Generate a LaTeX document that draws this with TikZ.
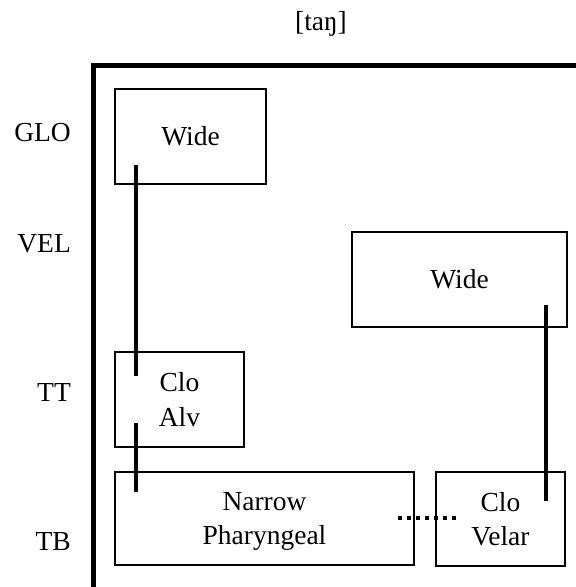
\documentclass[tikz,border=0pt]{standalone}
\usepackage{fontspec}
\setmainfont{Liberation Serif}
\begin{document}
\begin{tikzpicture}[x=1pt,y=-1pt,
  box/.style={draw, line width=2pt, inner sep=0pt, align=center, font=\fontsize{27.5}{34.5}\selectfont},
  lbl/.style={anchor=base east, inner sep=0pt, font=\fontsize{27.5}{34}\selectfont},
  conn/.style={line width=4pt},
  dotline/.style={line width=4pt, dash pattern=on 4pt off 5pt},
  frame/.style={line width=5pt, line join=miter}]
\useasboundingbox (0,0) rectangle (576,587);
\node[anchor=base, inner sep=0pt, font=\fontsize{27.5}{34}\selectfont] (title) at (321,30.5) {[taŋ]};
\coordinate (fb) at (93,592);
\coordinate (fc) at (93,65);
\coordinate (fr) at (582,65);
\draw[frame] (fb) -- (fc) -- (fr);
% tier labels
\node[lbl] (glo) at (71,141.5) {GLO};
\node[lbl] (vel0) at (71,252.7) {VEL};
\node[lbl] (tt) at (71,401.7) {TT};
\node[lbl] (tb) at (71,550) {TB};
% gestures
\node[box, minimum width=151pt, minimum height=95pt] (wideA) at (190.5,136.5) {Wide};
\node[box, minimum width=215pt, minimum height=95pt] (wideB) at (459.5,279.5) {Wide};
\node[box, minimum width=129pt, minimum height=95pt] (alv) at (179.5,399.5) {Clo\\Alv};
\node[box, minimum width=299pt, minimum height=93pt] (nar) at (264.5,518.5) {Narrow\\\smash{Pharyngeal}};
\node[box, minimum width=129pt, minimum height=94pt] (vel) at (500.5,519) {Clo\\Velar};
% associations
\draw[conn] ([xshift=22pt,yshift=20pt]wideA.south west) -- ([xshift=22pt,yshift=-25pt]alv.north west);
\draw[conn] ([xshift=22pt,yshift=25pt]alv.south west) -- ([xshift=22pt,yshift=-21pt]nar.north west);
\draw[conn] ([xshift=-22pt,yshift=23pt]wideB.south east) -- ([xshift=-20pt,yshift=-30pt]vel.north east);
\draw[dotline] ([xshift=-17pt,yshift=1pt]nar.east) -- ([xshift=22pt,yshift=1.5pt]vel.west);
\end{tikzpicture}
\end{document}
